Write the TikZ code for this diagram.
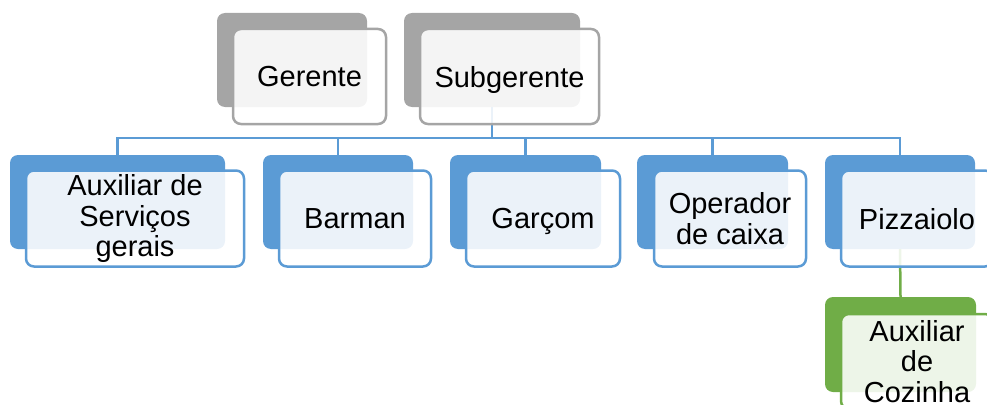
\documentclass[tikz,border=0pt]{standalone}
\usepackage{fontspec}
\setmainfont{Liberation Sans}
\usepackage{tikz}
\usepackage{xcolor}

\definecolor{boxblue}{HTML}{5B9BD5}
\definecolor{boxgray}{HTML}{A5A5A5}
\definecolor{boxgreen}{HTML}{70AD47}

\tikzset{
  backbox/.style={rectangle, rounded corners=8pt, inner sep=0pt, fill=#1},
  frontbox/.style={rectangle, rounded corners=8pt, draw=#1, line width=2.5pt,
    fill=white, fill opacity=0.88, text opacity=1, align=center, inner sep=0pt,
    font=\fontsize{29}{30.5}\selectfont},
  oneline/.style={text depth=0pt},
  link/.style={draw=#1, line width=2.5pt},
}

\begin{document}
\begin{tikzpicture}[x=1pt,y=-1pt]
\useasboundingbox (0,0) rectangle (987,404);
\clip (0,0) rectangle (987,404);

% Top row - shaded back plates
\node[backbox=boxgray, minimum width=150, minimum height=94] (gerenteBack) at (292,60) {};
\node[backbox=boxgray, minimum width=176, minimum height=94] (subBack) at (492,60) {};

% Second row - back plates
\node[backbox=boxblue, minimum width=215, minimum height=94] (auxBack) at (117.5,202) {};
\node[backbox=boxblue, minimum width=150, minimum height=94] (barBack) at (338,202) {};
\node[backbox=boxblue, minimum width=151, minimum height=94] (garBack) at (525.5,202) {};
\node[backbox=boxblue, minimum width=151, minimum height=94] (opBack) at (712.5,202) {};
\node[backbox=boxblue, minimum width=150, minimum height=94] (pizBack) at (900,202) {};

% Kitchen helper under the pizza maker
\node[backbox=boxgreen, minimum width=151, minimum height=95] (cozBack) at (900.5,344.5) {};

% Connectors
\coordinate (hub) at (492,138);
\draw[link=boxblue] (subBack.south) -- (hub);
\foreach \c in {auxBack,barBack,garBack,opBack,pizBack}
  \draw[link=boxblue] (hub) -| (\c.north);
\draw[link=boxgreen] (pizBack.south) -- (cozBack.north);

% Front cards with the job titles
\node[frontbox=boxgray, oneline, minimum width=153, minimum height=95] (gerente) at (309.5,76.5) {Gerente};
\node[frontbox=boxgray, oneline, minimum width=179, minimum height=95] (sub) at (509.5,76.5) {Subgerente};

\node[frontbox=boxblue, minimum width=218, minimum height=96] (aux) at (135,218.5) {Auxiliar de\\Serviços\\gerais};
\node[frontbox=boxblue, oneline, minimum width=152, minimum height=96] (bar) at (355,218.5) {Barman};
\node[frontbox=boxblue, oneline, minimum width=154, minimum height=96] (gar) at (543,218.5) {Garçom};
\node[frontbox=boxblue, minimum width=152, minimum height=96] (op) at (730,218.5) {Operador\\de caixa};
\node[frontbox=boxblue, oneline, minimum width=152, minimum height=96] (piz) at (917,218.5) {Pizzaiolo};

\node[frontbox=boxgreen, minimum width=152, minimum height=95] (coz) at (917,361.5) {Auxiliar\\de\\Cozinha};
\end{tikzpicture}
\end{document}
